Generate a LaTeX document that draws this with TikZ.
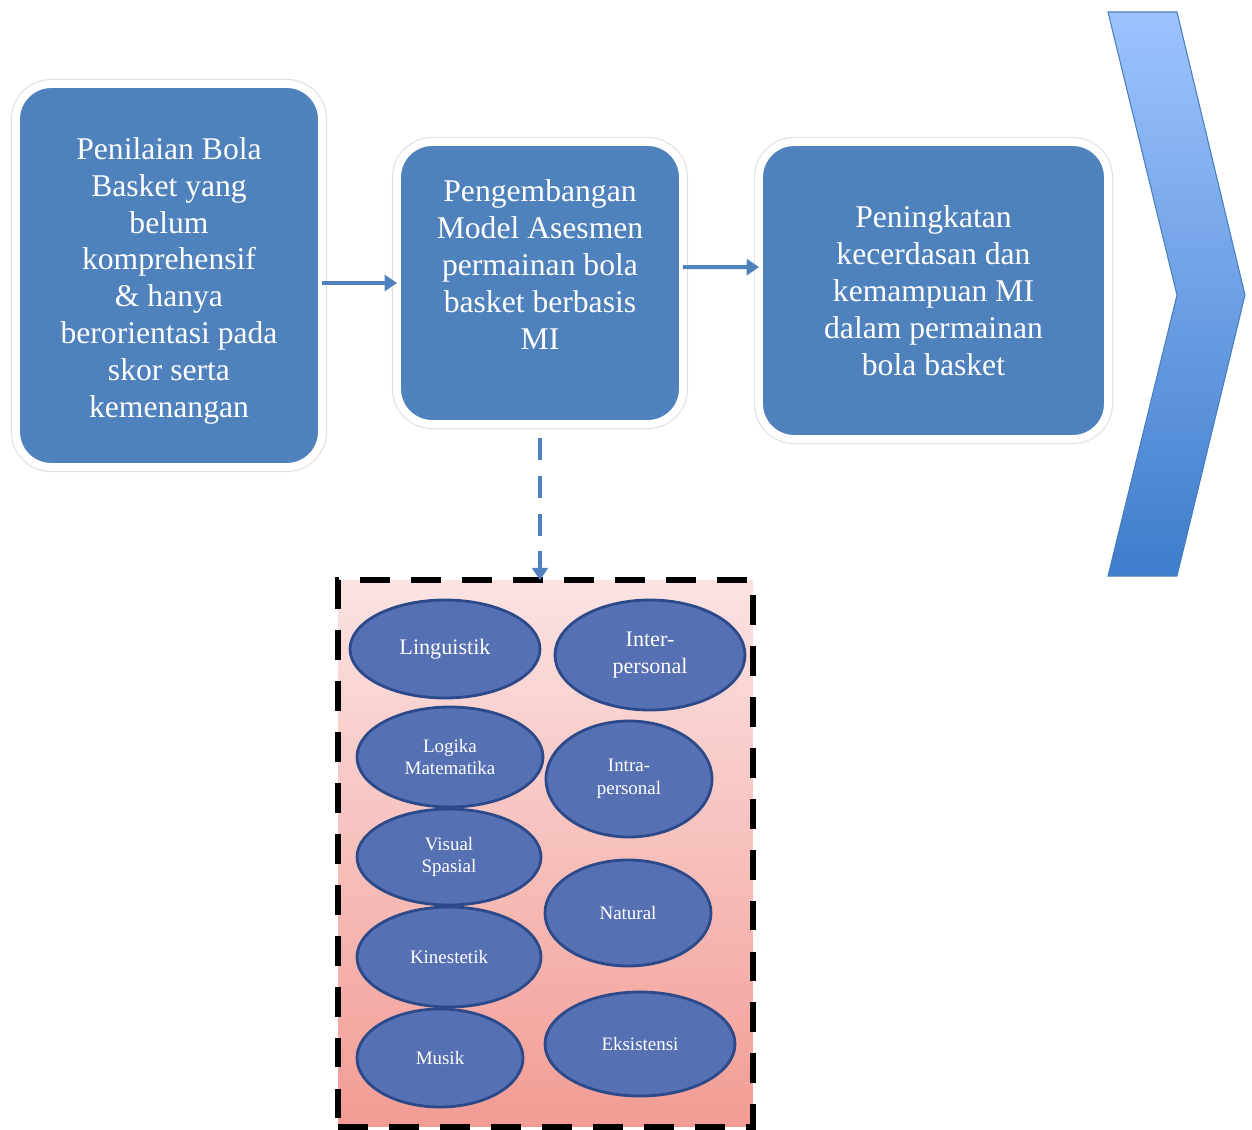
\documentclass[tikz,border=0pt]{standalone}
\usepackage{fontspec}
\setmainfont{Liberation Serif}
\usetikzlibrary{shapes.geometric,arrows.meta}
\definecolor{boxblue}{HTML}{4F81BD}
\definecolor{miblue}{HTML}{5570B3}
\definecolor{miedge}{HTML}{2C4A89}
\definecolor{pinktop}{HTML}{FBE3E3}
\definecolor{pinkbot}{HTML}{F29C94}
\definecolor{chevtop}{HTML}{9DC3FF}
\definecolor{chevbot}{HTML}{3E7DCB}
\definecolor{chevedge}{HTML}{4A7EBB}
\begin{document}
\begin{tikzpicture}[x=0.02cm,y=-0.02cm,
  stage/.style={rectangle,rounded corners=20pt,fill=boxblue,draw=white,line width=4.5pt,
    preaction={draw=black!12,line width=5.8pt},text=white,align=center,
    font=\fontsize{18}{21}\selectfont,inner sep=0pt,outer sep=0pt},
  flow/.style={draw=boxblue,line width=2.3pt,-{Triangle[length=7pt,width=9pt]}},
  mi/.style={ellipse,fill=miblue,draw=miedge,line width=1.6pt,text=white,align=center,inner sep=0pt},
  mibig/.style={mi,font=\fontsize{12.6}{15}\selectfont},
  misml/.style={mi,font=\fontsize{10.8}{12.8}\selectfont}]
  \useasboundingbox (0,0) rectangle (1252,1130);
    \coordinate (pos1) at (169,275.5);
    \coordinate (pos2) at (540,283);
    \coordinate (pos3) at (933.5,290.5);
    \coordinate (posmi) at (545.5,853.5);

    \node[stage,minimum width=6.12cm,minimum height=7.66cm] (box1) at (pos1)
        {\rule{0pt}{18.5pt}Penilaian Bola\\Basket yang\\belum\\komprehensif\\\& hanya\\berorientasi pada\\skor serta\\kemenangan};
    \node[stage,minimum width=5.72cm,minimum height=5.64cm] (box2) at (pos2)
        {Pengembangan\\Model Asesmen\\permainan bola\\basket berbasis\\MI\\ \mbox{}};
    \node[stage,minimum width=6.98cm,minimum height=5.94cm] (box3) at (pos3)
        {Peningkatan\\kecerdasan dan\\kemampuan MI\\dalam permainan\\bola basket};

    \draw[flow] (box1.east |- box2.west) -- (box2.west);
    \draw[flow] ([yshift=9.1pt]box2.east) -- ([yshift=13.3pt]box3.west);

    \node[draw=black,line width=3.4pt,dash pattern=on 17pt off 12pt,top color=pinktop,bottom color=pinkbot,
        minimum width=8.3cm,minimum height=10.94cm,inner sep=0pt,outer sep=0pt] (mibox) at (posmi) {};
    \draw[flow,dash pattern=on 12.5pt off 9pt] ([yshift=-8pt]box2.south) -- (mibox.north -| box2.south);

  \foreach \nm/\cx/\cy/\w/\h/\st/\txt in {
      ling/445/649/190/98/mibig/Linguistik,
      inter/650/655/190/110/mibig/{Inter-\\personal},
      logika/450/757/186/100/misml/{Logika\\Matematika},
      intra/629/779/166/116/misml/{Intra-\\personal},
      visual/449/857/184/96/misml/{Visual\\Spasial},
      natural/628/913/166/106/misml/Natural,
      kines/449/957/184/100/misml/Kinestetik,
      musik/440/1058/166/98/misml/Musik,
      eksis/640/1044/190/104/misml/Eksistensi}
	{
    \node[\st,minimum width=\w*0.02cm,minimum height=\h*0.02cm] (\nm) at (\cx,\cy) {\txt};
	}

    \draw[draw=chevedge,line width=0.6pt,top color=chevtop,bottom color=chevbot]
        (1108,12) -- (1177,12) -- (1245,295) -- (1177,576) -- (1108,576) -- (1177,295) -- cycle;
\end{tikzpicture}
\end{document}
